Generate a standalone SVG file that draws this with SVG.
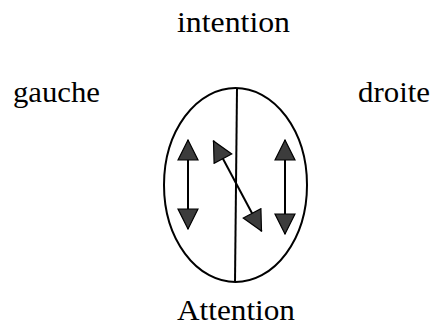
<svg xmlns="http://www.w3.org/2000/svg" width="435" height="328" viewBox="0 0 435 328">
<style>
text{font-family:"Liberation Serif","Times New Roman",serif;font-size:30px;fill:#000}
.ln{stroke:#000;stroke-width:2;fill:none}
.sh{stroke:#000;stroke-width:2}
</style>
<defs>
<marker id="ah" markerUnits="userSpaceOnUse" markerWidth="22" markerHeight="22" viewBox="0 0 22 22" refX="21" refY="11" orient="auto-start-reverse">
<path d="M1,1 L21,11 L1,21 Z" fill="#3c3c3c" stroke="#000" stroke-width="1.2"/>
</marker>
</defs>
<rect width="435" height="328" fill="#fff"/>
<g id="brain">
<ellipse class="ln" cx="235.5" cy="185" rx="71.5" ry="97"/>
<line class="ln" x1="237" y1="88" x2="235" y2="282"/>
</g>
<g id="connectors">
<line class="sh" x1="188" y1="140" x2="188" y2="229" marker-start="url(#ah)" marker-end="url(#ah)"/>
<line class="sh" x1="285" y1="140" x2="285" y2="234" marker-start="url(#ah)" marker-end="url(#ah)"/>
<line class="sh" x1="213.5" y1="141" x2="261.5" y2="231" marker-start="url(#ah)" marker-end="url(#ah)"/>
</g>
<g id="intention"><text x="177" y="32" textLength="113" lengthAdjust="spacingAndGlyphs">intention</text></g>
<g id="gauche"><text x="13" y="102" textLength="87" lengthAdjust="spacingAndGlyphs">gauche</text></g>
<g id="droite"><text x="358" y="102" textLength="72" lengthAdjust="spacingAndGlyphs">droite</text></g>
<g id="attention"><text x="177" y="320" textLength="118" lengthAdjust="spacingAndGlyphs">Attention</text></g>
</svg>
